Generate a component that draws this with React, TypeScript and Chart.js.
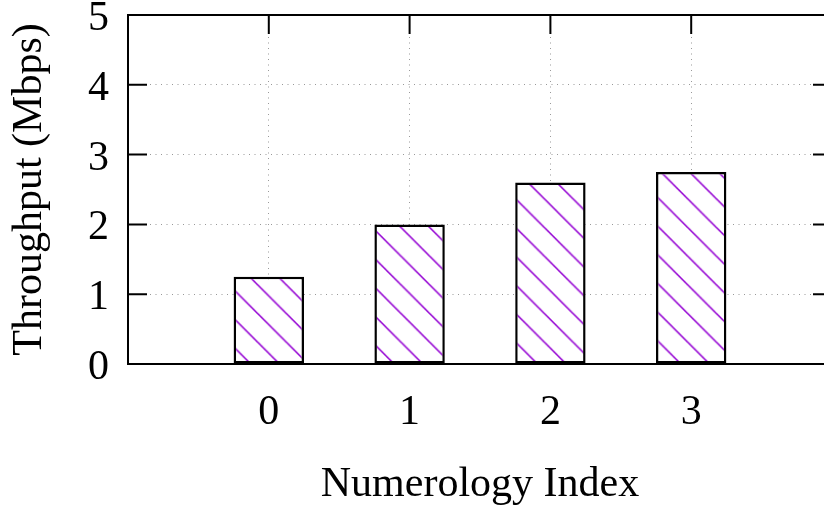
import React, { useEffect, useRef } from "react";
import { Chart, registerables } from "chart.js";

Chart.register(...registerables);

const categories = ["0", "1", "2", "3"];
const throughput = [1.25, 2.0, 2.6, 2.75];
const yTickValues = [0, 1, 2, 3, 4, 5];
const xTitle = "Numerology Index";
const yTitle = "Throughput (Mbps)";

const FONT = "'Liberation Serif', 'Times New Roman', serif";
const HATCH = "#9400d3";

export default function App() {
  const ref = useRef<HTMLCanvasElement>(null);

  useEffect(() => {
    const canvas = ref.current!;
    const ctx = canvas.getContext("2d")!;

    const tile = document.createElement("canvas");
    tile.width = 28;
    tile.height = 28;
    const tc = tile.getContext("2d")!;
    tc.fillStyle = "#ffffff";
    tc.fillRect(0, 0, 28, 28);
    tc.strokeStyle = HATCH;
    tc.lineWidth = 1.5;
    tc.beginPath();
    tc.moveTo(-2, -2);
    tc.lineTo(30, 30);
    tc.moveTo(-2, 26);
    tc.lineTo(2, 30);
    tc.moveTo(26, -2);
    tc.lineTo(30, 2);
    tc.stroke();
    const pattern = ctx.createPattern(tile, "repeat")!;
    const s = 28.67 / 28;
    pattern.setTransform(new DOMMatrix().translate(0, -1.5).scale(s));

    const labels = ["", ...categories, ""];
    const data = [null, ...throughput, null];

    const framePlugin = {
      id: "frame",
      beforeDatasetsDraw(chart: any) {
        const { ctx, chartArea } = chart;
        const { left, right, top, bottom } = chartArea;
        const xs = chart.scales.x;
        const ys = chart.scales.y;
        ctx.save();
        ctx.strokeStyle = "#000";
        ctx.lineWidth = 2;
        ctx.beginPath();
        yTickValues.forEach((v) => {
          const py = ys.getPixelForValue(v);
          ctx.moveTo(left, py);
          ctx.lineTo(left + 19, py);
          ctx.moveTo(right, py);
          ctx.lineTo(right - 19, py);
        });
        categories.forEach((_, i) => {
          const px = xs.getPixelForValue(i + 1);
          ctx.moveTo(px, top);
          ctx.lineTo(px, top + 19);
          ctx.moveTo(px, bottom);
          ctx.lineTo(px, bottom - 19);
        });
        ctx.stroke();
        ctx.restore();
      },
      afterDatasetsDraw(chart: any) {
        const { ctx, chartArea } = chart;
        const { left, right, top, bottom } = chartArea;
        ctx.save();
        ctx.strokeStyle = "#000";
        ctx.lineWidth = 2;
        ctx.strokeRect(left, top, right - left, bottom - top);
        ctx.restore();
      },
    };

    const chart = new Chart(canvas, {
      type: "bar",
      data: {
        labels,
        datasets: [
          {
            data,
            backgroundColor: pattern,
            borderColor: "#000",
            borderWidth: 2.5,
            borderSkipped: false,
            categoryPercentage: 1,
            barPercentage: 0.5,
          },
        ],
      },
      options: {
        responsive: false,
        animation: false,
        devicePixelRatio: 1,
        layout: { padding: { left: 0, top: 15, right: 8, bottom: 0 } },
        plugins: { legend: { display: false }, tooltip: { enabled: false } },
        scales: {
          x: {
            type: "category",
            offset: false,
            grid: {
              color: "#999",
              lineWidth: 1,
              drawTicks: false,
              offset: false,
            },
            border: { display: false, dash: [1, 4.5] },
            ticks: {
              color: "#000",
              font: { family: FONT, size: 42 },
              padding: 24,
              maxRotation: 0,
              autoSkip: false,
            },
            title: {
              display: true,
              text: xTitle,
              color: "#000",
              font: { family: FONT, size: 42 },
              padding: { top: 0, bottom: 2 },
            },
            afterFit(scale: any) {
              scale.height = 148;
              scale.paddingLeft = 0;
              scale.paddingRight = 0;
            },
          },
          y: {
            min: 0,
            max: 5,
            grid: {
              color: "#999",
              lineWidth: 1,
              drawTicks: false,
            },
            border: { display: false, dash: [1, 4.5] },
            ticks: {
              stepSize: 1,
              color: "#000",
              font: { family: FONT, size: 42 },
              padding: 19,
              labelOffset: 4,
            },
            title: {
              display: true,
              text: yTitle,
              color: "#000",
              font: { family: FONT, size: 42 },
              padding: { top: 5, bottom: 0 },
            },
            afterFit(scale: any) {
              scale.width = 128;
              scale.paddingTop = 0;
              scale.paddingBottom = 0;
            },
          },
        },
      },
      plugins: [framePlugin],
    });

    return () => chart.destroy();
  }, []);

  return (
    <div
      style={{
        position: "fixed",
        left: 0,
        top: 0,
        width: 824,
        height: 512,
        overflow: "hidden",
        background: "#fff",
      }}
    >
      <canvas
        ref={ref}
        width={840}
        height={512}
        style={{ width: 840, height: 512, display: "block" }}
      />
    </div>
  );
}
